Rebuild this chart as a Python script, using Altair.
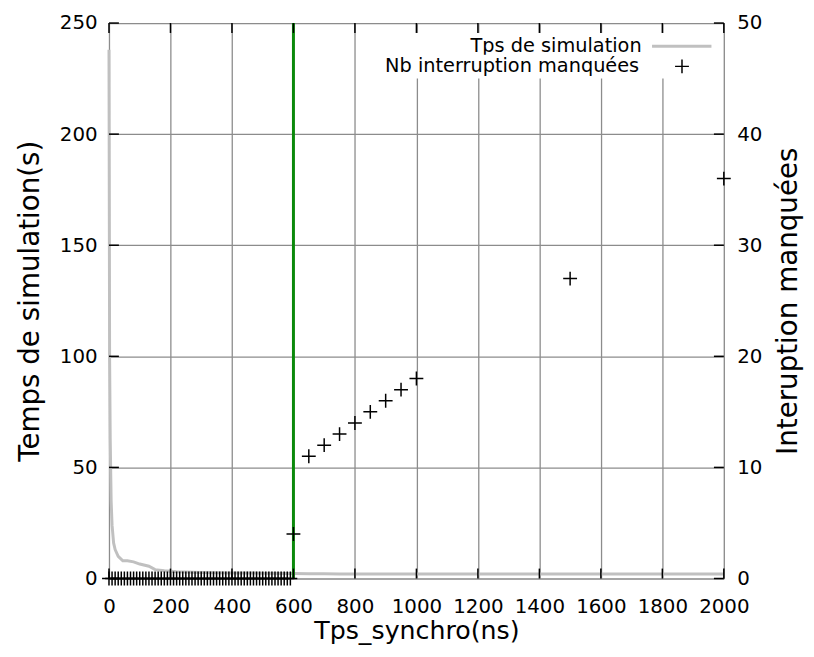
import altair as alt
import pandas as pd

# ---- data ----
sim_x = [0, 2, 4, 7, 10, 15, 20, 30, 45, 60, 80, 100, 130, 150, 180, 220, 300, 400, 500,
         600, 650, 700, 750, 800, 850, 900, 950, 1000, 1500, 2000]
sim_y = [238, 100, 63, 35, 24, 16, 13, 10, 8, 8, 7.5, 6.5, 5.5, 4, 3.5, 3, 2.7, 2.5, 2.4,
         2.2, 2.1, 2.1, 2.0, 2.0, 2.0, 2.0, 2.0, 2.0, 2.0, 2.0]

miss_x = [0, 10, 20, 30, 40, 50, 60, 70, 80, 90, 100, 110, 120, 130, 140, 150, 160, 170,
          180, 190, 200, 210, 220, 230, 240, 250, 260, 270, 280, 290, 300, 310, 320, 330,
          340, 350, 360, 370, 380, 390, 400, 410, 420, 430, 440, 450, 460, 470, 480, 490,
          500, 510, 520, 530, 540, 550, 560, 570, 580, 590,
          600, 650, 700, 750, 800, 850, 900, 950, 1000, 1500, 2000]
miss_y = [0, 0, 0, 0, 0, 0, 0, 0, 0, 0, 0, 0, 0, 0, 0, 0, 0, 0,
          0, 0, 0, 0, 0, 0, 0, 0, 0, 0, 0, 0, 0, 0, 0, 0,
          0, 0, 0, 0, 0, 0, 0, 0, 0, 0, 0, 0, 0, 0, 0, 0,
          0, 0, 0, 0, 0, 0, 0, 0, 0, 0,
          4, 11, 12, 13, 14, 15, 16, 17, 18, 27, 36]

limit_x = [600]

x_ticks = [0, 200, 400, 600, 800, 1000, 1200, 1400, 1600, 1800, 2000]
y_left_ticks = [0, 50, 100, 150, 200, 250]
y_right_ticks = [0, 10, 20, 30, 40, 50]

sim_label = "Tps de simulation"
miss_label = "Nb interruption manquées"

W, H = 621, 561
SANS = "DejaVu Sans"
PLUS = "M-1,0H1M0,-1V1"

sim_df = pd.DataFrame({"x": sim_x, "y": sim_y, "s": sim_label})
miss_df = pd.DataFrame({"x": miss_x, "y": miss_y, "s": miss_label})
limit_df = pd.DataFrame({"x": limit_x})
xt_df = pd.DataFrame({"x": x_ticks})
yt_df = pd.DataFrame({"y": y_left_ticks})

xscale = alt.Scale(domain=[0, 2000], nice=False, zero=False)
ylscale = alt.Scale(domain=[0, 250], nice=False)
yrscale = alt.Scale(domain=[0, 50], nice=False)

x_axis = alt.Axis(values=x_ticks, format="d", title="Tps_synchro(ns)", grid=True,
                  ticks=False, domain=False, labelOverlap=False, labelFlush=False,
                  labelFont=SANS, labelFontSize=20, labelPadding=18,
                  titleFont=SANS, titleFontSize=25.5, titleFontWeight="normal",
                  titlePadding=3, gridColor="#8c8c8c", gridWidth=1.3,
                  labelColor="black", titleColor="black")

yl_axis = alt.Axis(values=y_left_ticks, format="d", title="Temps de simulation(s)",
                   grid=True, ticks=False, domain=False, labelOverlap=False,
                   labelFlush=False, labelFont=SANS, labelFontSize=20,
                   labelPadding=12, titleFont=SANS, titleFontSize=28,
                   titleFontWeight="normal", titlePadding=15, gridColor="#8c8c8c",
                   gridWidth=1.3, labelColor="black", titleColor="black")

yr_axis = alt.Axis(values=y_right_ticks, format="d", title="Interuption manquées",
                   orient="right", grid=False, ticks=False, domain=False,
                   labelOverlap=False, labelFlush=False, labelFont=SANS,
                   labelFontSize=20, labelPadding=13, titleFont=SANS, titleFontSize=28,
                   titleFontWeight="normal", titleAngle=270, titleBaseline="top",
                   titlePadding=13, labelColor="black", titleColor="black")

line = alt.Chart(sim_df).mark_line(strokeWidth=3).encode(
    x=alt.X("x:Q", scale=xscale, axis=x_axis),
    y=alt.Y("y:Q", scale=ylscale, axis=yl_axis),
    stroke=alt.Stroke("s:N", scale=alt.Scale(domain=[sim_label], range=["#c0c0c0"]),
                      legend=alt.Legend(title=None, orient="none", legendX=266, legendY=10,
                                        symbolType="M-3,0H3", symbolSize=400,
                                        symbolStrokeWidth=3, symbolFillColor="transparent",
                                        labelAlign="right", labelOffset={"expr": "-52"},
                                        symbolOffset=299, labelLimit=400, labelFont=SANS,
                                        labelFontSize=19.5, labelColor="black",
                                        fillColor="white", padding=2)),
)

limit = alt.Chart(limit_df).mark_rule(color="#0b8a0b", strokeWidth=3).encode(
    x=alt.X("x:Q", scale=xscale, axis=x_axis)
)

left_ticks = alt.Chart(yt_df).mark_rule(color="black", strokeWidth=1.5).encode(
    y=alt.Y("y:Q", scale=ylscale, axis=yl_axis), x=alt.value(0), x2=alt.value(10)
)
right_ticks = alt.Chart(yt_df).mark_rule(color="black", strokeWidth=1.5).encode(
    y=alt.Y("y:Q", scale=ylscale, axis=yl_axis), x=alt.value(W - 10), x2=alt.value(W)
)
bottom_ticks = alt.Chart(xt_df).mark_rule(color="black", strokeWidth=1.5).encode(
    x=alt.X("x:Q", scale=xscale, axis=x_axis), y=alt.value(H - 10), y2=alt.value(H)
)
top_ticks = alt.Chart(xt_df).mark_rule(color="black", strokeWidth=1.5).encode(
    x=alt.X("x:Q", scale=xscale, axis=x_axis), y=alt.value(0), y2=alt.value(10)
)

points = alt.Chart(miss_df).mark_point(filled=False, size=196, strokeWidth=1.5,
                                       color="black", opacity=1).encode(
    x=alt.X("x:Q", scale=xscale, axis=x_axis),
    y=alt.Y("y:Q", scale=yrscale, axis=yr_axis),
    shape=alt.Shape("s:N", scale=alt.Scale(domain=[miss_label], range=[PLUS]),
                    legend=alt.Legend(title=None, orient="none", legendX=266, legendY=32,
                                      symbolSize=196, symbolStrokeWidth=1.5,
                                      symbolStrokeColor="black",
                                      symbolFillColor="transparent",
                                      labelAlign="right", labelOffset={"expr": "-53"},
                                      symbolOffset=301, labelLimit=400, labelFont=SANS,
                                      labelFontSize=19.5, labelColor="black",
                                      fillColor="white", padding=2)),
)

left = alt.layer(line, limit, left_ticks, right_ticks, bottom_ticks, top_ticks)

chart = alt.layer(left, points).resolve_scale(
    y="independent", stroke="independent", shape="independent"
).properties(
    width=W, height=H,
    autosize=alt.AutoSizeParams(type="none"),
    padding={"left": 102, "top": 12, "right": 83, "bottom": 67},
).configure_view(stroke="black", strokeWidth=2).configure(background="white")

chart.save("out.html", embed_options={"renderer": "svg", "actions": False})
